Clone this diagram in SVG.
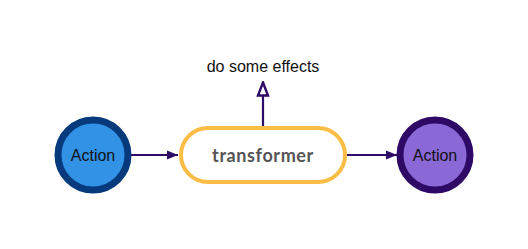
<svg xmlns="http://www.w3.org/2000/svg" width="528" height="249" viewBox="0 0 528 249">
  <defs>
    <marker id="solid" viewBox="0 0 10 10" refX="10" refY="5" markerWidth="11" markerHeight="11" markerUnits="userSpaceOnUse" orient="auto">
      <path d="M0,1 L10,5 L0,9 Z" fill="#2d0b66"/>
    </marker>
    <marker id="hollow" viewBox="0 0 16 14" refX="15" refY="7" markerWidth="16" markerHeight="14" markerUnits="userSpaceOnUse" orient="auto">
      <path d="M1.5,2 L14.5,7 L1.5,12 Z" fill="#ffffff" stroke="#2d0b66" stroke-width="2.4" stroke-linejoin="miter"/>
    </marker>
  </defs>
  <style>
    .edge { fill: none; stroke: #2d0b66; stroke-width: 2.2; }
    .label { font-family: "Liberation Sans", Arial, sans-serif; font-size: 16px; fill: #111111; text-anchor: middle; }
    .title { font-family: Lato, "Liberation Sans", sans-serif; font-size: 18px; font-weight: bold; fill: #555555; text-anchor: middle; letter-spacing: 0.6px; }
  </style>
  <rect width="528" height="249" fill="#ffffff"/>

  <g id="connectors">
    <path class="edge" d="M131,155 L178,155" marker-end="url(#solid)"/>
    <path class="edge" d="M263,127 L263,82" marker-end="url(#hollow)"/>
    <path class="edge" d="M347,155 L397,155" marker-end="url(#solid)"/>
  </g>

  <g id="action-in">
    <circle cx="93" cy="155" r="35" fill="#3292e6" stroke="#063a7c" stroke-width="7"/>
    <text class="label" x="93" y="161">Action</text>
  </g>

  <g id="transformer">
    <rect x="181" y="128" width="164" height="54" rx="27" ry="27" fill="#ffffff" stroke="#fbbd46" stroke-width="4"/>
    <text class="title" x="263" y="162">transformer</text>
  </g>

  <g id="effects">
    <text class="label" x="263" y="72">do some effects</text>
  </g>

  <g id="action-out">
    <circle cx="435" cy="155" r="35" fill="#8a68d6" stroke="#2e0a66" stroke-width="7"/>
    <text class="label" x="435" y="161">Action</text>
  </g>
</svg>
